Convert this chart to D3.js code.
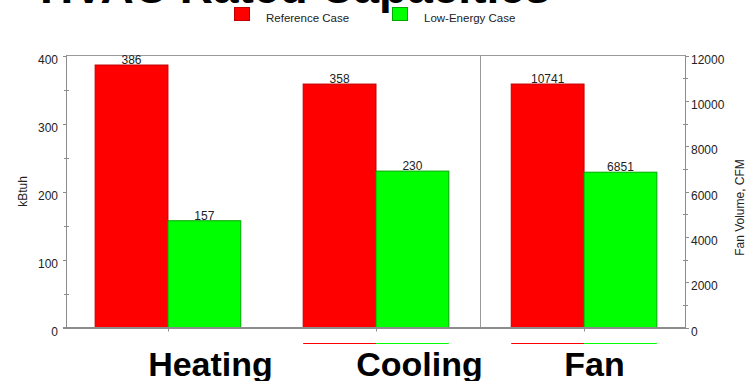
<!DOCTYPE html>
<html>
<head>
<meta charset="utf-8">
<script src="https://cdn.jsdelivr.net/npm/d3@7"></script>
<style>
  html, body { margin: 0; padding: 0; background: #fff; }
  svg { display: block; font-family: "Liberation Sans", Arial, Helvetica, sans-serif; }
</style>
</head>
<body>
<svg id="chart" width="751" height="381"></svg>
<script>
// HVAC rated capacities: heating and cooling in kBtuh (left axis), fan volume in CFM (right axis)
const title = "HVAC Rated Capacities";
const categories = ["Heating", "Cooling", "Fan"];
const seriesNames = ["Reference Case", "Low-Energy Case"];
const referenceCase = [386, 358, 10741];
const lowEnergyCase = [157, 230, 6851];
const categoryAxis = ["left", "left", "right"];
const leftTicks = [0, 100, 200, 300, 400];
const rightTicks = [0, 2000, 4000, 6000, 8000, 10000, 12000];
const leftTitle = "kBtuh";
const rightTitle = "Fan Volume, CFM";

const seriesColors = ["#ff0000", "#00ff00"];
const seriesStrokes = ["#c00000", "#00a800"];
const axisColor = "#8c8c8c";
const textColor = "#222";

const svg = d3.select("#chart");
const plot = { left: 66, right: 686, top: 55.5, bottom: 327.5 };

const x = d3.scaleBand()
  .domain(categories)
  .range([plot.left, plot.right])
  .paddingInner(0.3)
  .paddingOuter(0.14);

const inner = d3.scaleBand()
  .domain(seriesNames)
  .range([0, x.bandwidth()]);

const yLeft = d3.scaleLinear().domain([0, 400]).range([plot.bottom, plot.top]);
const yRight = d3.scaleLinear().domain([0, 12000]).range([plot.bottom, plot.top]);
const yFor = i => categoryAxis[i] === "right" ? yRight : yLeft;

// Title (sits partly above the canvas edge)
svg.append("text")
  .attr("x", 40).attr("y", 3)
  .attr("font-size", 46).attr("font-weight", "bold")
  .attr("fill", "#000")
  .text(title);

// Legend
const legendX = [234, 392];
seriesNames.forEach((name, i) => {
  const g = svg.append("g").attr("transform", `translate(${legendX[i]},7)`);
  g.append("rect").attr("x", 0.5).attr("y", 0.5).attr("width", 15).attr("height", 13)
    .attr("fill", seriesColors[i]).attr("stroke", seriesStrokes[i]);
  g.append("text").attr("x", 32).attr("y", 14.5)
    .attr("font-size", 11.5).attr("fill", textColor).text(name);
});

// Frame: top border and separator between the kBtuh and CFM groups
svg.append("line")
  .attr("x1", plot.left).attr("x2", plot.right)
  .attr("y1", plot.top).attr("y2", plot.top)
  .attr("stroke", "#9a9a9a").attr("stroke-width", 1);

const sepX = Math.round((x("Cooling") + x.bandwidth() + x("Fan")) / 2) + 0.5;
svg.append("line")
  .attr("x1", sepX).attr("x2", sepX)
  .attr("y1", plot.top).attr("y2", plot.bottom)
  .attr("stroke", "#9a9a9a").attr("stroke-width", 1);

// Bars
const rows = categories.map((c, i) => ({
  category: c,
  values: [referenceCase[i], lowEnergyCase[i]],
  y: yFor(i)
}));

rows.forEach(row => {
  row.values.forEach((v, s) => {
    const x0 = x(row.category) + inner(seriesNames[s]);
    svg.append("rect")
      .attr("x", x0).attr("y", row.y(v))
      .attr("width", inner.bandwidth())
      .attr("height", plot.bottom - row.y(v))
      .attr("fill", seriesColors[s])
      .attr("stroke", seriesStrokes[s]).attr("stroke-width", 1);
    svg.append("text")
      .attr("x", x0 + inner.bandwidth() / 2)
      .attr("y", row.y(v) - 1)
      .attr("text-anchor", "middle")
      .attr("font-size", 12).attr("fill", textColor)
      .text(v);
  });
});

// Left axis
const leftAxis = svg.append("g");
leftAxis.append("line")
  .attr("x1", plot.left + 0.5).attr("x2", plot.left + 0.5)
  .attr("y1", plot.top).attr("y2", plot.bottom)
  .attr("stroke", axisColor);
leftTicks.forEach(t => {
  leftAxis.append("line")
    .attr("x1", plot.left - 3).attr("x2", plot.left + 0.5)
    .attr("y1", Math.round(yLeft(t)) + 0.5).attr("y2", Math.round(yLeft(t)) + 0.5)
    .attr("stroke", axisColor);
  leftAxis.append("text")
    .attr("x", plot.left - 8).attr("y", yLeft(t) + 8)
    .attr("text-anchor", "end").attr("font-size", 12).attr("fill", textColor)
    .text(t);
});
d3.range(50, 400, 100).forEach(t => {
  leftAxis.append("line")
    .attr("x1", plot.left - 2).attr("x2", plot.left + 3)
    .attr("y1", Math.round(yLeft(t)) + 0.5).attr("y2", Math.round(yLeft(t)) + 0.5)
    .attr("stroke", axisColor);
});
svg.append("text")
  .attr("transform", `translate(27,${(plot.top + plot.bottom) / 2}) rotate(-90)`)
  .attr("text-anchor", "middle").attr("font-size", 12).attr("fill", textColor)
  .text(leftTitle);

// Right axis
const rightAxis = svg.append("g");
rightAxis.append("line")
  .attr("x1", plot.right - 0.5).attr("x2", plot.right - 0.5)
  .attr("y1", plot.top).attr("y2", plot.bottom)
  .attr("stroke", axisColor);
rightTicks.forEach(t => {
  rightAxis.append("line")
    .attr("x1", plot.right - 0.5).attr("x2", plot.right + 3)
    .attr("y1", Math.round(yRight(t)) + 0.5).attr("y2", Math.round(yRight(t)) + 0.5)
    .attr("stroke", axisColor);
  rightAxis.append("text")
    .attr("x", plot.right + 5).attr("y", yRight(t) + 8)
    .attr("font-size", 12).attr("fill", textColor)
    .text(t);
});
d3.range(1000, 12000, 2000).forEach(t => {
  rightAxis.append("line")
    .attr("x1", plot.right - 3).attr("x2", plot.right + 2)
    .attr("y1", Math.round(yRight(t)) + 0.5).attr("y2", Math.round(yRight(t)) + 0.5)
    .attr("stroke", axisColor);
});
svg.append("text")
  .attr("transform", `translate(744,${(plot.top + plot.bottom) / 2 + 16}) rotate(-90)`)
  .attr("text-anchor", "middle").attr("font-size", 12).attr("fill", textColor)
  .text(rightTitle);

// Category axis along the bottom
svg.append("line")
  .attr("x1", plot.left - 3).attr("x2", plot.right)
  .attr("y1", plot.bottom + 0.5).attr("y2", plot.bottom + 0.5)
  .attr("stroke", axisColor).attr("stroke-width", 2);
categories.forEach(c => {
  const cx = Math.round(x(c) + x.bandwidth() / 2) + 0.5;
  svg.append("line")
    .attr("x1", cx).attr("x2", cx)
    .attr("y1", plot.bottom + 1).attr("y2", plot.bottom + 4)
    .attr("stroke", axisColor);
  svg.append("text")
    .attr("x", x(c) + 53).attr("y", 376)
    .attr("font-size", 34).attr("font-weight", "bold").attr("fill", "#000")
    .text(c);
});

// Colour key under the Cooling and Fan groups
categories.slice(1).forEach(c => {
  seriesNames.forEach((name, s) => {
    const x0 = x(c) + inner(name);
    svg.append("line")
      .attr("x1", x0).attr("x2", x0 + inner.bandwidth())
      .attr("y1", 343.5).attr("y2", 343.5)
      .attr("stroke", seriesColors[s]).attr("stroke-width", 1);
  });
});
</script>
</body>
</html>
